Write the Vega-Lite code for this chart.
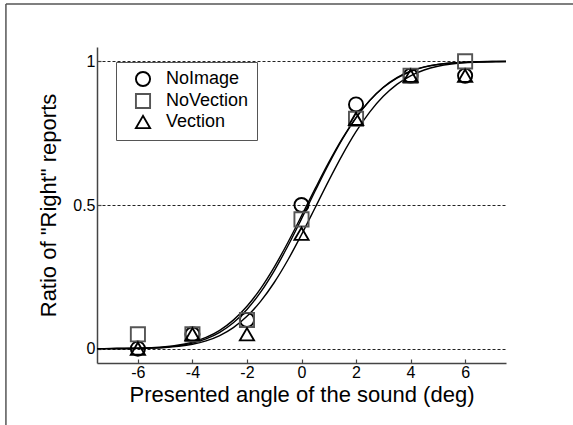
{
  "$schema": "https://vega.github.io/schema/vega-lite/v6.json",
  "width": 409,
  "height": 316,
  "autosize": "none",
  "padding": {"left": 97, "top": 47, "right": 67, "bottom": 62},
  "background": "white",
  "config": {
    "view": {"stroke": null},
    "font": "Liberation Sans",
    "axis": {
      "labelFont": "Liberation Sans",
      "titleFont": "Liberation Sans",
      "labelColor": "black",
      "titleColor": "black",
      "titleFontWeight": "normal",
      "domainColor": "#444",
      "domainWidth": 1.5,
      "tickColor": "#444",
      "tickWidth": 1.2
    }
  },
  "datasets": {
    "curves": [
      {"x": -7.5, "y": 0.0001, "series": "NoImage"}, {"x": -7, "y": 0.0003, "series": "NoImage"}, {"x": -6.5, "y": 0.0007, "series": "NoImage"}, {"x": -6, "y": 0.0016, "series": "NoImage"}, {"x": -5.5, "y": 0.0033, "series": "NoImage"}, {"x": -5, "y": 0.0066, "series": "NoImage"}, {"x": -4.5, "y": 0.0126, "series": "NoImage"}, {"x": -4, "y": 0.0228, "series": "NoImage"}, {"x": -3.5, "y": 0.039, "series": "NoImage"}, {"x": -3, "y": 0.0638, "series": "NoImage"}, {"x": -2.5, "y": 0.0993, "series": "NoImage"}, {"x": -2, "y": 0.1474, "series": "NoImage"}, {"x": -1.5, "y": 0.209, "series": "NoImage"}, {"x": -1, "y": 0.2839, "series": "NoImage"}, {"x": -0.5, "y": 0.3695, "series": "NoImage"}, {"x": 0, "y": 0.4621, "series": "NoImage"}, {"x": 0.5, "y": 0.5568, "series": "NoImage"}, {"x": 1, "y": 0.6484, "series": "NoImage"}, {"x": 1.5, "y": 0.7321, "series": "NoImage"}, {"x": 2, "y": 0.8043, "series": "NoImage"}, {"x": 2.5, "y": 0.8633, "series": "NoImage"}, {"x": 3, "y": 0.9088, "series": "NoImage"}, {"x": 3.5, "y": 0.942, "series": "NoImage"}, {"x": 4, "y": 0.9648, "series": "NoImage"}, {"x": 4.5, "y": 0.9797, "series": "NoImage"}, {"x": 5, "y": 0.9889, "series": "NoImage"}, {"x": 5.5, "y": 0.9942, "series": "NoImage"}, {"x": 6, "y": 0.9971, "series": "NoImage"}, {"x": 6.5, "y": 0.9987, "series": "NoImage"}, {"x": 7, "y": 0.9994, "series": "NoImage"}, {"x": 7.5, "y": 0.9997, "series": "NoImage"},
      {"x": -7.5, "y": 0.0001, "series": "NoVection"}, {"x": -7, "y": 0.0002, "series": "NoVection"}, {"x": -6.5, "y": 0.0005, "series": "NoVection"}, {"x": -6, "y": 0.0011, "series": "NoVection"}, {"x": -5.5, "y": 0.0025, "series": "NoVection"}, {"x": -5, "y": 0.0052, "series": "NoVection"}, {"x": -4.5, "y": 0.0103, "series": "NoVection"}, {"x": -4, "y": 0.0191, "series": "NoVection"}, {"x": -3.5, "y": 0.0337, "series": "NoVection"}, {"x": -3, "y": 0.0565, "series": "NoVection"}, {"x": -2.5, "y": 0.0899, "series": "NoVection"}, {"x": -2, "y": 0.1362, "series": "NoVection"}, {"x": -1.5, "y": 0.1966, "series": "NoVection"}, {"x": -1, "y": 0.271, "series": "NoVection"}, {"x": -0.5, "y": 0.3572, "series": "NoVection"}, {"x": 0, "y": 0.4515, "series": "NoVection"}, {"x": 0.5, "y": 0.5485, "series": "NoVection"}, {"x": 1, "y": 0.6428, "series": "NoVection"}, {"x": 1.5, "y": 0.729, "series": "NoVection"}, {"x": 2, "y": 0.8034, "series": "NoVection"}, {"x": 2.5, "y": 0.8638, "series": "NoVection"}, {"x": 3, "y": 0.9101, "series": "NoVection"}, {"x": 3.5, "y": 0.9435, "series": "NoVection"}, {"x": 4, "y": 0.9663, "series": "NoVection"}, {"x": 4.5, "y": 0.9809, "series": "NoVection"}, {"x": 5, "y": 0.9897, "series": "NoVection"}, {"x": 5.5, "y": 0.9948, "series": "NoVection"}, {"x": 6, "y": 0.9975, "series": "NoVection"}, {"x": 6.5, "y": 0.9989, "series": "NoVection"}, {"x": 7, "y": 0.9995, "series": "NoVection"}, {"x": 7.5, "y": 0.9998, "series": "NoVection"},
      {"x": -7.5, "y": 0.0001, "series": "Vection"}, {"x": -7, "y": 0.0002, "series": "Vection"}, {"x": -6.5, "y": 0.0004, "series": "Vection"}, {"x": -6, "y": 0.0009, "series": "Vection"}, {"x": -5.5, "y": 0.002, "series": "Vection"}, {"x": -5, "y": 0.0041, "series": "Vection"}, {"x": -4.5, "y": 0.0081, "series": "Vection"}, {"x": -4, "y": 0.0151, "series": "Vection"}, {"x": -3.5, "y": 0.0269, "series": "Vection"}, {"x": -3, "y": 0.0455, "series": "Vection"}, {"x": -2.5, "y": 0.0732, "series": "Vection"}, {"x": -2, "y": 0.1124, "series": "Vection"}, {"x": -1.5, "y": 0.1645, "series": "Vection"}, {"x": -1, "y": 0.2302, "series": "Vection"}, {"x": -0.5, "y": 0.3085, "series": "Vection"}, {"x": 0, "y": 0.3967, "series": "Vection"}, {"x": 0.5, "y": 0.4905, "series": "Vection"}, {"x": 1, "y": 0.5849, "series": "Vection"}, {"x": 1.5, "y": 0.6745, "series": "Vection"}, {"x": 2, "y": 0.7551, "series": "Vection"}, {"x": 2.5, "y": 0.8235, "series": "Vection"}, {"x": 3, "y": 0.8784, "series": "Vection"}, {"x": 3.5, "y": 0.92, "series": "Vection"}, {"x": 4, "y": 0.9498, "series": "Vection"}, {"x": 4.5, "y": 0.97, "series": "Vection"}, {"x": 5, "y": 0.983, "series": "Vection"}, {"x": 5.5, "y": 0.9908, "series": "Vection"}, {"x": 6, "y": 0.9953, "series": "Vection"}, {"x": 6.5, "y": 0.9977, "series": "Vection"}, {"x": 7, "y": 0.9989, "series": "Vection"}, {"x": 7.5, "y": 0.9995, "series": "Vection"}
    ],
    "points": [
      {"x": -6, "y": 0.0, "series": "NoImage"}, {"x": -4, "y": 0.05, "series": "NoImage"}, {"x": -2, "y": 0.1, "series": "NoImage"}, {"x": 0, "y": 0.5, "series": "NoImage"}, {"x": 2, "y": 0.85, "series": "NoImage"}, {"x": 4, "y": 0.95, "series": "NoImage"}, {"x": 6, "y": 0.95, "series": "NoImage"},
      {"x": -6, "y": 0.05, "series": "NoVection"}, {"x": -4, "y": 0.05, "series": "NoVection"}, {"x": -2, "y": 0.1, "series": "NoVection"}, {"x": 0, "y": 0.45, "series": "NoVection"}, {"x": 2, "y": 0.8, "series": "NoVection"}, {"x": 4, "y": 0.95, "series": "NoVection"}, {"x": 6, "y": 1.0, "series": "NoVection"},
      {"x": -6, "y": 0.0, "series": "Vection"}, {"x": -4, "y": 0.05, "series": "Vection"}, {"x": -2, "y": 0.05, "series": "Vection"}, {"x": 0, "y": 0.4, "series": "Vection"}, {"x": 2, "y": 0.8, "series": "Vection"}, {"x": 4, "y": 0.95, "series": "Vection"}, {"x": 6, "y": 0.95, "series": "Vection"}
    ],
    "frame": [
      {"side": "left", "xa": -10.84, "xb": -10.84, "ya": 1.2, "yb": -0.4},
      {"side": "top", "xa": -10.84, "xb": 10.6, "ya": 1.2, "yb": 1.2}
    ]
  },
  "layer": [
    {
      "data": {"name": "frame"},
      "mark": {"type": "rule", "color": "#555", "strokeWidth": 1.5, "clip": false},
      "encoding": {
        "x": {
          "field": "xa", "type": "quantitative",
          "scale": {"domain": [-7.5, 7.5], "nice": false, "zero": false},
          "axis": {
            "title": "Presented angle of the sound (deg)",
            "titleFontSize": 22, "titlePadding": 4,
            "values": [-6, -4, -2, 0, 2, 4, 6],
            "labelExpr": "'' + datum.value",
            "labelFontSize": 16, "labelPadding": 5,
            "tickSize": -4, "grid": false
          }
        },
        "x2": {"field": "xb"},
        "y": {
          "field": "ya", "type": "quantitative",
          "scale": {"domain": [-0.05, 1.05], "nice": false, "zero": false},
          "axis": {
            "title": "Ratio of \"Right\" reports",
            "titleFontSize": 22, "titlePadding": 12,
            "values": [0, 0.5, 1], "labelExpr": "'' + datum.value",
            "labelFontSize": 16, "labelPadding": 6,
            "tickSize": -4,
            "grid": true, "gridColor": "#222", "gridDash": [3, 2], "gridWidth": 1
          }
        },
        "y2": {"field": "yb"}
      }
    },
    {
      "data": {"name": "curves"},
      "mark": {"type": "line", "color": "black", "strokeWidth": 1.4, "interpolate": "monotone", "clip": true},
      "encoding": {
        "x": {"field": "x", "type": "quantitative", "title": "Presented angle of the sound (deg)"},
        "y": {"field": "y", "type": "quantitative", "title": "Ratio of \"Right\" reports"},
        "detail": {"field": "series"}
      }
    },
    {
      "data": {"name": "points"},
      "mark": {"type": "point", "filled": false, "strokeWidth": 1.9, "size": 200, "opacity": 1},
      "encoding": {
        "x": {"field": "x", "type": "quantitative", "title": "Presented angle of the sound (deg)"},
        "y": {"field": "y", "type": "quantitative", "title": "Ratio of \"Right\" reports"},
        "shape": {
          "field": "series", "type": "nominal",
          "scale": {"domain": ["NoImage", "NoVection", "Vection"], "range": ["circle", "square", "triangle-up"]},
          "legend": {
            "title": null, "orient": "none", "legendX": 19, "legendY": 15,
            "strokeColor": "#555", "fillColor": "white", "padding": 8,
            "symbolOffset": 10, "labelFontSize": 18, "labelFont": "Liberation Sans", "labelColor": "black",
            "symbolSize": 200, "symbolStrokeWidth": 1.9, "labelOffset": 14, "rowPadding": 0, "symbolFillColor": "transparent"
          }
        },
        "stroke": {
          "field": "series", "type": "nominal",
          "scale": {"domain": ["NoImage", "NoVection", "Vection"], "range": ["#000000", "#555555", "#000000"]},
          "legend": null
        }
      }
    }
  ]
}
